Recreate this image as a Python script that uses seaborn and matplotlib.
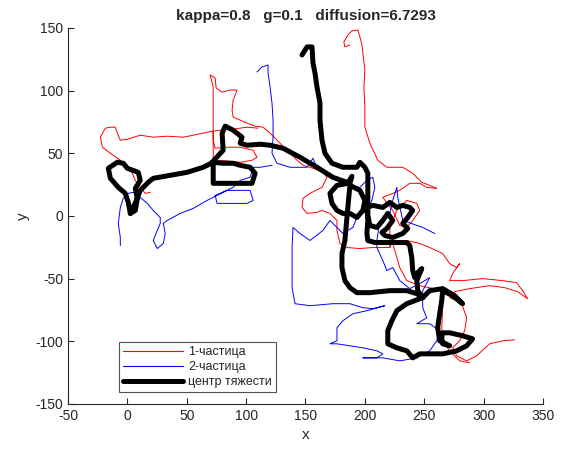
import numpy as np
import pandas as pd
import seaborn as sns
import matplotlib
matplotlib.use("Agg")
import matplotlib.pyplot as plt
from matplotlib.lines import Line2D

# ---- data (data coordinates) ----
red_x_1 = [19.3, 15.1, 10.9, 6.7, 4.2, 0, -5.9, -14.3, -21.0, -22.7, -18.5, -14.3, -10.1, -8.4, -5.9, 0, 10.9, 21.8, 33.6, 47.1, 55.5, 67.2, 72.3, 72.3, 72.3, 72.3, 78.2, 86.6, 95.0, 105.0, 109.2, 105.9, 95.0, 84.0, 73.9, 72.3, 72.3, 72.3, 72.3, 69.7, 73.9, 74.8, 79.8, 86.6, 92.4, 89.1, 88.2, 89.1, 95.0, 100.8, 107.6, 114.3, 120.2, 128.6, 134.4, 142.9, 147.9, 156.3, 164.7, 168.1, 163.9, 153.8, 147.9, 147.1, 151.3, 159.7, 163.9, 170.6, 176.5, 176.5, 179.0, 184.9, 195.8, 206.7, 215.1, 221.0, 221.0, 226.9, 235.3, 243.7, 246.2, 240.3, 235.3, 229.4, 223.5, 215.1, 223.5, 229.4, 237.8, 246.2, 252.1, 260.5]
red_y_1 = [18.8, 18.0, 22.8, 28.4, 34.0, 38.8, 44.4, 50.0, 54.8, 62.8, 70.0, 70.8, 70.8, 66.0, 60.4, 61.2, 64.4, 62.8, 63.6, 62.8, 64.4, 66.8, 67.6, 56.4, 48.4, 42.0, 44.4, 43.6, 42.8, 44.4, 46.8, 52.4, 54.8, 54.8, 54.0, 60.4, 70.8, 86.8, 102.8, 112.4, 110.0, 102.0, 98.8, 100.4, 100.4, 92.4, 84.4, 78.8, 76.4, 74.0, 71.6, 70.8, 66.0, 58.0, 52.4, 44.4, 40.4, 38.0, 34.8, 30.8, 22.8, 18.0, 14.0, 6.8, 2.0, 2.8, 4.4, 2.0, -3.6, -11.6, -22.0, -25.2, -26.0, -25.2, -25.2, -25.2, -9.2, 4.4, 12.4, 10.0, 4.4, -3.6, -9.2, -7.6, 4.4, 14.8, 18.0, 20.4, 26.0, 26.0, 22.8, 22.0]
red_x_2 = [187.4, 183.2, 182.3, 185.7, 189.1, 194.1, 195.8, 197.5, 198.3, 200.0, 199.2, 200.0, 200.0, 204.2, 210.9, 218.5, 231.9, 240.3, 247.9, 254.6, 260.5]
red_y_2 = [136.4, 134.8, 138.8, 144.4, 147.6, 148.4, 142.8, 136.4, 130.0, 116.4, 102.8, 86.8, 70.8, 58.0, 44.4, 38.8, 38.8, 34.0, 26.8, 24.4, 22.0]
red_x_3 = [221.0, 223.5, 235.3, 246.2, 254.6, 265.5, 271.4, 277.3, 279.8, 273.9, 271.4, 282.3, 299.1, 316.0, 327.7, 332.8, 337.0, 328.6, 317.6, 305.0, 288.2, 275.6, 271.4, 277.3, 281.5, 285.7, 284.0, 279.8, 273.9, 277.3, 285.7, 294.1, 305.0, 316.0, 326.0]
red_y_3 = [-25.2, -19.6, -19.6, -22.0, -25.2, -30.0, -38.0, -41.2, -38.0, -46.0, -51.6, -51.6, -50.0, -51.6, -53.2, -59.6, -66.0, -60.4, -57.2, -55.6, -58.0, -60.4, -65.2, -67.6, -70.0, -81.2, -91.6, -99.6, -105.2, -111.6, -115.6, -111.6, -102.0, -99.6, -98.8]
red_x_4 = [72.3, 78.2, 89.1, 100.8, 110.1]
red_y_4 = [67.6, 68.4, 69.2, 70.8, 70.0]
red_x_5 = [223.5, 229.4, 235.3, 246.2, 265.5, 265.5, 264.7, 265.5, 271.4, 279.8, 288.2]
red_y_5 = [-22.0, -41.2, -51.6, -55.6, -59.6, -73.2, -89.2, -99.6, -107.6, -115.6, -117.2]

blue_x_1 = [-5.9, -5.9, -7.6, -5.9, -3.4, 0.8, 5.0, 10.9, 16.8, 21.8, 27.7, 27.7, 25.2, 21.8, 25.2, 30.3, 31.9, 30.3, 33.6, 44.5, 55.5, 67.2, 75.6, 84.0, 95.0, 103.4, 105.9, 100.8, 84.0, 75.6, 73.9, 84.0, 89.1, 95.0, 103.4, 105.9, 111.8, 121.8]
blue_y_1 = [-23.6, -17.2, -6.0, 6.8, 14.0, 18.0, 18.8, 14.8, 10.0, 4.4, -1.2, -6.0, -11.6, -19.6, -26.0, -22.0, -14.0, -6.0, -3.6, 2.0, 6.0, 12.4, 16.4, 20.4, 20.4, 20.4, 12.4, 10.0, 10.0, 10.0, 16.4, 20.4, 22.8, 28.4, 30.8, 38.8, 38.8, 40.4]
blue_x_2 = [109.2, 113.4, 118.5, 118.5, 120.2, 121.8, 122.7, 122.7, 121.8, 126.0, 137.0, 151.3, 156.3, 158.0, 164.7, 176.5, 184.9, 195.8, 201.7,
            206.7, 208.4, 205.9, 201.7, 193.3, 189.9, 181.5, 170.6, 164.7, 153.8, 145.4, 139.5, 138.7, 138.7, 138.7, 141.2, 153.8, 173.1, 187.4, 198.3, 206.7, 216.8, 201.7, 189.9, 181.5, 176.5, 176.5, 170.6, 176.5, 187.4, 198.3, 210.1, 215.1, 210.1, 198.3, 215.1, 229.4, 243.7, 254.6, 260.5, 263.0, 254.6, 243.7, 252.1, 248.7, 248.7, 254.6, 246.2, 237.8, 229.4, 223.5, 218.5, 215.1, 210.1, 210.1, 212.6, 221.0, 223.5, 226.9, 227.7, 231.9, 248.7, 258.8]
blue_y_2 = [114.8, 118.8, 120.4, 114.0, 102.8, 90.0, 76.4, 62.8, 50.0, 42.0, 38.8, 38.8, 46.0, 42.0, 36.4, 28.4, 24.4, 22.8, 28.4,
            30.8, 22.8, 12.4, 4.4, -1.2, -9.2, -14.0, -3.6, -11.6, -19.6, -14.0, -9.2, -25.2, -41.2, -57.2, -70.0, -71.6, -70.0, -70.0, -73.2, -74.0, -71.6, -75.6, -78.0, -83.6, -89.2, -99.6, -102.0, -102.0, -103.6, -105.2, -107.6, -110.0, -113.2, -113.2, -113.2, -115.6, -113.2, -107.6, -99.6, -91.6, -86.0, -86.0, -81.2, -73.2, -59.6, -49.2, -54.0, -58.0, -51.6, -41.2, -43.6, -35.6, -25.2, -19.6, -3.6, 2.0, 12.4, 22.8, 14.8, -3.6, -9.2, -14.0]

center_x = [2.5, 0.8, -1.7, -7.6, -14.3, -16.0, -8.4, -3.4, 0, 9.2, 10.9, 6.7, 8.4, 6.7, 2.5, 7.6, 10.9, 17.6, 21.8, 36.1, 50.4, 63.9, 72.3,
            72.3, 89.1, 105.0, 107.6, 103.4, 95.0, 89.1, 80.7, 71.4,
            80.7, 79.8, 82.4, 89.1, 96.6, 95.0, 100.8, 111.8,
            120.2, 131.1, 145.4, 159.7, 173.1, 187.4, 189.1, 185.7,
            176.5, 170.6, 172.3, 176.5, 181.5, 187.4, 193.3, 198.3, 200.0, 195.8, 187.4, 184.9,
            183.2, 180.7, 180.7, 183.2, 187.4, 193.3, 204.2, 221.0, 235.3, 243.7, 248.7,
            235.3, 226.9, 222.7, 219.3, 219.3, 226.9, 235.3, 240.3, 246.2, 254.6, 265.5, 277.3, 285.7, 290.7, 282.3, 271.4, 265.5, 264.7, 265.5, 271.4, 263.0, 261.3, 263.0, 264.7, 265.5, 273.9, 282.3, 275.6, 265.5, 254.6, 248.7,
            244.5, 243.7, 247.9, 244.5, 242.0, 240.3, 239.5, 237.8, 235.3, 221.0, 208.4, 202.5, 201.7, 202.5, 201.7,
            206.7, 215.1, 221.0, 226.9, 231.9, 237.8, 240.3, 236.1, 231.9, 236.1, 231.9, 223.5, 216.8, 214.3, 218.5, 223.5, 219.3, 215.1, 210.1, 204.2, 202.5,
            202.5, 202.5, 200.0, 195.8, 193.3, 181.5, 172.3, 166.4, 163.9, 162.2, 162.2, 159.7, 158.0, 156.3, 155.5, 151.3, 147.1]
center_y = [2.0, 10.8, 18.0, 22.8, 30.0, 38.0, 42.8, 42.0, 38.0, 34.8, 28.4, 22.0, 14.0, 4.4, 2.0, 12.4, 20.4, 26.8, 30.0, 32.4, 34.8, 38.8, 42.8,
            26.0, 26.0, 26.0, 34.0, 38.8, 40.4, 42.0, 42.0, 42.8,
            52.4, 66.0, 71.6, 68.4, 62.8, 58.0, 56.4, 57.2,
            56.4, 54.0, 46.8, 38.8, 30.8, 26.0, 31.6, 26.0,
            24.4, 18.0, 10.0, 4.4, 2.0, 2.0, -1.2, 4.4, 12.4, 20.4, 24.4, -1.2,
            -19.6, -30.0, -41.2, -51.6, -57.2, -61.2, -61.2, -59.6, -59.6, -62.0, -65.2,
            -70.0, -75.6, -83.6, -91.6, -102.0, -105.2, -107.6, -113.2, -110.0, -110.0, -110.0, -107.6, -103.6, -98.0, -95.6, -93.2, -93.2, -97.2, -102.0, -103.6, -99.6, -89.2, -78.0, -67.6, -59.6, -63.6, -70.0, -63.6, -58.0, -59.6, -65.2,
            -59.6, -51.6, -42.0, -45.2, -49.2, -43.6, -33.2, -23.6, -21.2, -21.2, -21.2, -19.6, -14.0, -3.6, 6.8,
            8.4, 6.8, 10.8, 6.8, 8.4, 6.8, 4.4, -1.2, -6.0, -10.0, -14.0, -17.2, -15.6, -13.2, -10.0, -3.6, 2.0, -3.6, -9.2, -7.6, 0.4,
            18.0, 34.0, 38.8, 42.8, 38.8, 38.8, 42.0, 50.0, 60.4, 76.4, 90.0, 102.8, 114.0, 122.0, 134.8, 134.8, 128.4]

title_text = "kappa=0.8   g=0.1   diffusion=6.7293"
legend_labels = ["1-частица", "2-частица", "центр тяжести"]
x_ticks = [-50, 0, 50, 100, 150, 200, 250, 300, 350]
y_ticks = [-150, -100, -50, 0, 50, 100, 150]


def frame(segments):
    parts = []
    for i, (xs, ys) in enumerate(segments):
        parts.append(pd.DataFrame({"x": xs, "y": ys, "seg": i, "order": range(len(xs))}))
    return pd.concat(parts, ignore_index=True)


red_df = frame([(red_x_1, red_y_1), (red_x_2, red_y_2), (red_x_3, red_y_3),
                (red_x_4, red_y_4), (red_x_5, red_y_5)])
blue_df = frame([(blue_x_1, blue_y_1), (blue_x_2, blue_y_2)])
center_df = frame([(center_x, center_y)])

sns.set_theme(style="white")
plt.rcParams["font.family"] = ["Liberation Sans", "DejaVu Sans"]
plt.rcParams["axes.unicode_minus"] = False

fig = plt.figure(figsize=(5.71, 4.57), dpi=100)
ax = fig.add_axes([0.119, 0.116, 0.832, 0.823])

kw = dict(x="x", y="y", units="seg", estimator=None, sort=False, legend=False, ax=ax)
sns.lineplot(data=red_df, color=(1, 0, 0), lw=0.7, **kw)
sns.lineplot(data=blue_df, color=(0, 0, 1), lw=0.7, **kw)
sns.lineplot(data=center_df, color="black", lw=3.6, solid_joinstyle="round",
             solid_capstyle="round", **kw)

ax.set_xlim(-50, 350)
ax.set_ylim(-150, 150)
ax.set_xticks(x_ticks)
ax.set_yticks(y_ticks)
ax.tick_params(direction="in", length=4, width=0.8, colors="#262626",
               labelsize=10, labelcolor="#262626", bottom=True, left=True)
for s in ["top", "right"]:
    ax.spines[s].set_visible(False)
for s in ["left", "bottom"]:
    ax.spines[s].set_color("#262626")
    ax.spines[s].set_linewidth(0.8)
ax.set_xlabel("x", fontsize=11, color="#262626")
ax.set_ylabel("y", fontsize=11, color="#262626")
ax.set_title(title_text, fontsize=11, fontweight="bold", pad=6)

handles = [Line2D([], [], color=(1, 0, 0), lw=0.8),
           Line2D([], [], color=(0, 0, 1), lw=0.8),
           Line2D([], [], color="black", lw=3.6)]
leg = ax.legend(handles, legend_labels, loc="lower left",
                bbox_to_anchor=(0.095, 0.015), fontsize=9, frameon=True,
                fancybox=False, edgecolor="#262626", handlelength=4.8,
                borderpad=0.3, labelspacing=0.25, handletextpad=0.4)
leg.get_frame().set_linewidth(0.8)

fig.savefig("out.png", dpi=100)
